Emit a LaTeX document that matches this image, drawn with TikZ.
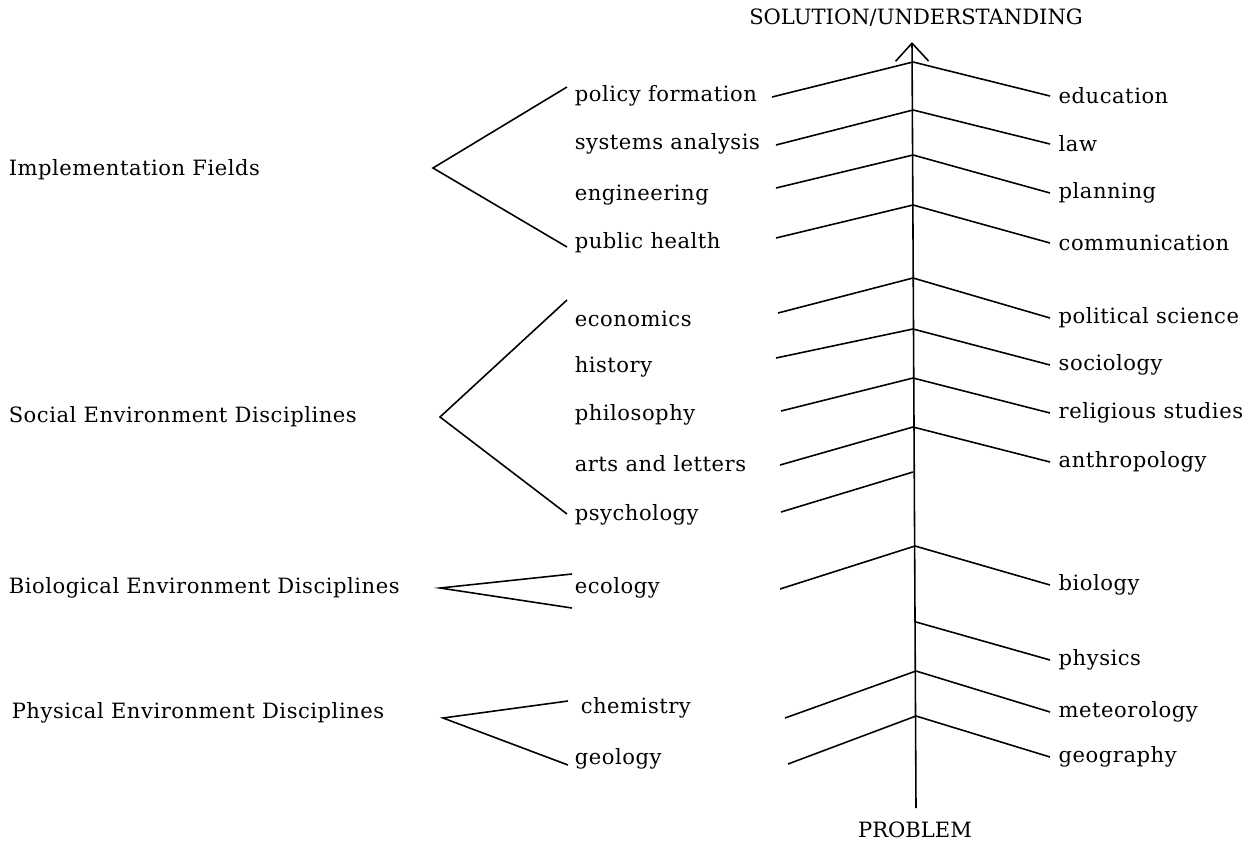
\documentclass[tikz,border=0pt]{standalone}
\usepackage{fontspec}
\setmainfont{DejaVu Serif}
\newfontfamily\widefont[LetterSpace=2.5]{DejaVu Serif}
\usetikzlibrary{arrows.meta,positioning}

\tikzset{
  txt/.style={anchor=west, inner sep=0pt, font=\widefont\fontsize{12}{14}\selectfont},
  rlabel/.style={txt, inner xsep=4.5pt},
  title/.style={font=\fontsize{12}{14}\selectfont},
  twig/.style={line width=0.9pt}
}

\begin{document}
\begin{tikzpicture}[x=0.02cm, y=-0.02cm, line width=0.9pt]
  \useasboundingbox (0,0) rectangle (1251,842);

  % Spine
  \coordinate (bottom) at (916,808);
  \coordinate (top) at (912,42);
  \draw[-{Straight Barb[width=0.66cm, length=0.36cm]}] (bottom) -- (top);
  \node[title] (sol) at (916,18) {SOLUTION/UNDERSTANDING};
  \node[title] (prob) at (915,830) {PROBLEM};

  % Junctions on the spine
  \coordinate (j1) at (913,62);
  \coordinate (j2) at (913,110);
  \coordinate (j3) at (913,155);
  \coordinate (j4) at (913,205);
  \coordinate (j5) at (913,278);
  \coordinate (j6) at (913,329);
  \coordinate (j7) at (913,378);
  \coordinate (j8) at (913,427);
  \coordinate (j9) at (913,472);
  \coordinate (j10) at (915,546);
  \coordinate (j11) at (916,622);
  \coordinate (j12) at (916,671);
  \coordinate (j13) at (916,716);

  % Left twigs (free ends)
  \coordinate (l1) at (772,97);
  \coordinate (l2) at (776,145);
  \coordinate (l3) at (776,188);
  \coordinate (l4) at (776,238);
  \coordinate (l5) at (778,313);
  \coordinate (l6) at (776,358);
  \coordinate (l7) at (781,411);
  \coordinate (l8) at (780,465);
  \coordinate (l9) at (781,512);
  \coordinate (l10) at (780,589);
  \coordinate (l12) at (785,718);
  \coordinate (l13) at (788,764);
  \draw[twig] (l1) -- (j1);
  \draw[twig] (l2) -- (j2);
  \draw[twig] (l3) -- (j3);
  \draw[twig] (l4) -- (j4);
  \draw[twig] (l5) -- (j5);
  \draw[twig] (l6) -- (j6);
  \draw[twig] (l7) -- (j7);
  \draw[twig] (l8) -- (j8);
  \draw[twig] (l9) -- (j9);
  \draw[twig] (l10) -- (j10);
  \draw[twig] (l12) -- (j12);
  \draw[twig] (l13) -- (j13);

  % Right labels
  \node[rlabel] (edu) at (1050,96) {education};
  \node[rlabel] (law) at (1050,144) {law};
  \node[rlabel] (plan) at (1050,193) {planning};
  \node[rlabel] (comm) at (1050,243) {communication};
  \node[rlabel] (pol) at (1050,318) {political science};
  \node[rlabel] (soci) at (1050,365) {sociology};
  \node[rlabel] (rel) at (1050,413) {religious studies};
  \node[rlabel] (anth) at (1050,462) {anthropology};
  \node[rlabel] (biol) at (1050,585) {biology};
  \node[rlabel] (phy) at (1050,660) {physics};
  \node[rlabel] (met) at (1050,712) {meteorology};
  \node[rlabel] (geog) at (1050,757) {geography};
  \draw[twig] (j1) -- (edu.west);
  \draw[twig] (j2) -- (law.west);
  \draw[twig] (j3) -- (plan.west);
  \draw[twig] (j4) -- (comm.west);
  \draw[twig] (j5) -- (pol.west);
  \draw[twig] (j6) -- (soci.west);
  \draw[twig] (j7) -- (rel.west);
  \draw[twig] (j8) -- (anth.west);
  \draw[twig] (j10) -- (biol.west);
  \draw[twig] (j11) -- (phy.west);
  \draw[twig] (j12) -- (met.west);
  \draw[twig] (j13) -- (geog.west);

  % Middle labels
  \node[txt] (pf) at (574,96) {policy formation};
  \node[txt] (sa) at (574,144) {systems analysis};
  \node[txt] (eng) at (574,195) {engineering};
  \node[txt] (ph) at (574,243) {public health};
  \node[txt] (eco) at (574,319) {economics};
  \node[txt] (his) at (574,367) {history};
  \node[txt] (phi) at (574,415) {philosophy};
  \node[txt] (arts) at (574,464) {arts and letters};
  \node[txt] (psy) at (574,515) {psychology};
  \node[txt] (ecol) at (574,588) {ecology};
  \node[txt] (chem) at (580,708) {chemistry};
  \node[txt] (geol) at (574,759) {geology};

  % Groups
  \node[txt] (impl) at (8,170) {Implementation Fields};
  \node[txt] (soc) at (8,417) {Social Environment Disciplines};
  \node[txt] (bio) at (8,588) {Biological Environment Disciplines};
  \node[txt] (phys) at (11,713) {Physical Environment Disciplines};

  % Brackets
  \coordinate (iv) at (433,168);
  \coordinate (it) at (567,87);
  \coordinate (ib) at (567,247);
  \draw[twig] (it) -- (iv) -- (ib);
  \coordinate (sv) at (440,417);
  \coordinate (st) at (567,300);
  \coordinate (sb) at (567,514);
  \draw[twig] (st) -- (sv) -- (sb);
  \coordinate (bv) at (440,588);
  \coordinate (bt) at (572,574);
  \coordinate (bb) at (572,608);
  \draw[twig] (bt) -- (bv) -- (bb);
  \coordinate (pv) at (443,718);
  \coordinate (pt) at (568,701);
  \coordinate (pb) at (568,765);
  \draw[twig] (pt) -- (pv) -- (pb);
\end{tikzpicture}
\end{document}
